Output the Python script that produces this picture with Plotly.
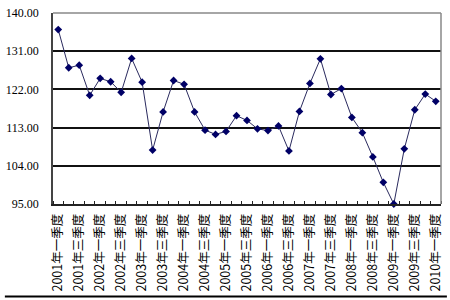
import plotly.graph_objects as go

categories = [
    "2001年一季度", "2001年二季度", "2001年三季度", "2001年四季度",
    "2002年一季度", "2002年二季度", "2002年三季度", "2002年四季度",
    "2003年一季度", "2003年二季度", "2003年三季度", "2003年四季度",
    "2004年一季度", "2004年二季度", "2004年三季度", "2004年四季度",
    "2005年一季度", "2005年二季度", "2005年三季度", "2005年四季度",
    "2006年一季度", "2006年二季度", "2006年三季度", "2006年四季度",
    "2007年一季度", "2007年二季度", "2007年三季度", "2007年四季度",
    "2008年一季度", "2008年二季度", "2008年三季度", "2008年四季度",
    "2009年一季度", "2009年二季度", "2009年三季度", "2009年四季度",
    "2010年一季度",
]
values = [136.1, 127.1, 127.7, 120.6, 124.6, 123.8, 121.3, 129.3, 123.7, 107.7,
          116.7, 124.1, 123.2, 116.7, 112.4, 111.4, 112.1, 115.8, 114.7, 112.7,
          112.3, 113.4, 107.5, 116.8, 123.4, 129.2, 120.8, 122.2, 115.4, 111.8,
          106.1, 100.1, 95.0, 108.0, 117.2, 120.9, 119.2]
y_ticks = [95, 104, 113, 122, 131, 140]

idx = list(range(len(categories)))

fig = go.Figure()
fig.add_trace(go.Scatter(
    x=idx, y=values, mode="lines+markers",
    line=dict(color="#2a2a5e", width=1),
    marker=dict(symbol="diamond", size=6, color="#000066"),
    cliponaxis=False, showlegend=False,
))

W, H = 450, 300
ml, mr, mt, mb = 49, 6, 9, 96
ph = H - mt - mb
pw = W - ml - mr

fig.update_layout(
    width=W, height=H,
    margin=dict(l=ml, r=mr, t=mt, b=mb, pad=0),
    paper_bgcolor="white", plot_bgcolor="white",
    xaxis=dict(
        range=[-0.5, len(categories) - 0.5],
        tickmode="array", tickvals=idx[::2], ticktext=categories[::2],
        tickangle=-90, ticks="", ticklabelstandoff=3,
        tickfont=dict(family="Noto Sans CJK SC", size=12.5, color="black"),
        showgrid=False, zeroline=False,
        showline=True, linecolor="#222222", linewidth=1.5,
        minor=dict(tick0=0.5, dtick=1, ticks="inside", ticklen=3,
                   tickcolor="#222222", showgrid=False),
    ),
    yaxis=dict(
        range=[95, 140], tickmode="array", tickvals=y_ticks,
        ticktext=[f"{v:.2f}" for v in y_ticks],
        tickfont=dict(family="Liberation Serif", size=12, color="black"),
        ticks="", ticklabelstandoff=10,
        showgrid=True, gridcolor="#111111", gridwidth=1.5,
        zeroline=False,
        showline=True, linecolor="#444444", linewidth=1.5,
    ),
    shapes=[
        dict(type="line", xref="paper", yref="paper", x0=0, x1=1, y0=1, y1=1,
             line=dict(color="#888888", width=1.5), layer="above"),
        dict(type="line", xref="paper", yref="paper", x0=1, x1=1, y0=0, y1=1,
             line=dict(color="#888888", width=1.5), layer="above"),
        dict(type="line", xref="paper", yref="paper",
             x0=-ml / pw, x1=1 + mr / pw,
             y0=-(H - mt - 1.5 - ph) / ph, y1=-(H - mt - 1.5 - ph) / ph,
             line=dict(color="black", width=2)),
    ],
)

fig.write_html("out.html")
